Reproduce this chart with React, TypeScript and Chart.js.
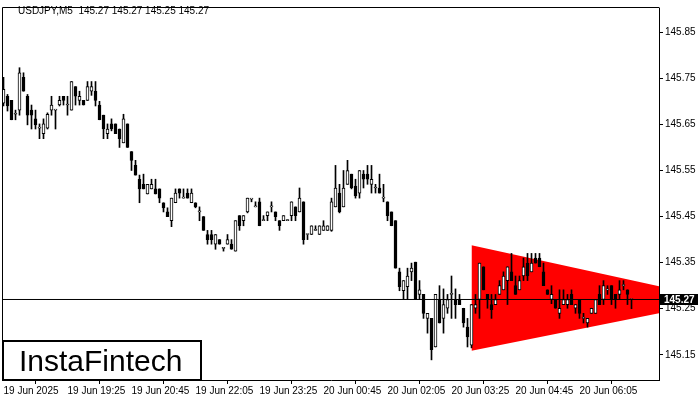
import React, { useEffect, useRef } from "react";
import { Chart, registerables } from "chart.js";
Chart.register(...registerables);

// ---- Data (M5 bars, index 0 = 19 Jun 18:05) ----
const openP = [
  145.696, 145.711, 145.702, 145.672, 145.681, 145.752, 145.711, 145.681, 145.662, 145.642,
  145.630, 145.642, 145.681, 145.681, 145.692, 145.711, 145.692, 145.681, 145.732, 145.702,
  145.702, 145.702, 145.722, 145.722, 145.692, 145.670, 145.630, 145.651, 145.651, 145.640,
  145.610, 145.651, 145.591, 145.561, 145.531, 145.520, 145.499, 145.510, 145.510, 145.510,
  145.480, 145.460, 145.441, 145.480, 145.510, 145.490, 145.501, 145.480, 145.480, 145.460,
  145.450, 145.411, 145.411, 145.390, 145.400, 145.381, 145.390, 145.390, 145.375, 145.452,
  145.441, 145.460, 145.488, 145.471, 145.482, 145.441, 145.452, 145.471, 145.460, 145.441,
  145.441, 145.441, 145.452, 145.471, 145.460, 145.482, 145.411, 145.411, 145.420, 145.411,
  145.420, 145.420, 145.420, 145.471, 145.501, 145.471, 145.520, 145.542, 145.516, 145.501,
  145.542, 145.542, 145.520, 145.512, 145.512, 145.490, 145.482, 145.460, 145.441, 145.330,
  145.289, 145.298, 145.330, 145.351, 145.281, 145.281, 145.229, 145.229, 145.167, 145.270,
  145.229, 145.251, 145.281, 145.270, 145.270, 145.251, 145.210, 145.171, 145.251, 145.270,
  145.341, 145.281, 145.259, 145.259, 145.281, 145.291, 145.311, 145.330, 145.300, 145.291,
  145.321, 145.349, 145.330, 145.360, 145.360, 145.330, 145.291, 145.270, 145.270, 145.240,
  145.259, 145.259, 145.281, 145.251, 145.270, 145.229, 145.219, 145.240, 145.240, 145.281,
  145.270, 145.291, 145.300, 145.281, 145.281, 145.300, 145.291, 145.270,
];
const highP = [
  145.752, 145.715, 145.702, 145.681, 145.773, 145.762, 145.715, 145.692, 145.681, 145.651,
  145.662, 145.675, 145.711, 145.681, 145.711, 145.711, 145.711, 145.743, 145.732, 145.722,
  145.702, 145.743, 145.743, 145.743, 145.700, 145.670, 145.651, 145.662, 145.651, 145.640,
  145.672, 145.651, 145.591, 145.572, 145.540, 145.542, 145.520, 145.531, 145.531, 145.510,
  145.480, 145.469, 145.490, 145.510, 145.510, 145.510, 145.510, 145.510, 145.480, 145.471,
  145.450, 145.420, 145.420, 145.411, 145.400, 145.381, 145.411, 145.400, 145.441, 145.452,
  145.452, 145.490, 145.488, 145.482, 145.490, 145.452, 145.460, 145.482, 145.460, 145.441,
  145.452, 145.441, 145.482, 145.471, 145.512, 145.482, 145.411, 145.430, 145.430, 145.430,
  145.441, 145.430, 145.490, 145.561, 145.520, 145.550, 145.572, 145.542, 145.531, 145.550,
  145.550, 145.561, 145.561, 145.520, 145.542, 145.520, 145.482, 145.460, 145.441, 145.338,
  145.311, 145.338, 145.349, 145.351, 145.311, 145.281, 145.240, 145.229, 145.281, 145.300,
  145.293, 145.281, 145.321, 145.293, 145.281, 145.251, 145.229, 145.259, 145.281, 145.349,
  145.341, 145.281, 145.281, 145.281, 145.311, 145.330, 145.341, 145.370, 145.321, 145.321,
  145.360, 145.370, 145.370, 145.370, 145.370, 145.349, 145.291, 145.300, 145.270, 145.291,
  145.291, 145.281, 145.291, 145.259, 145.270, 145.240, 145.229, 145.251, 145.270, 145.300,
  145.311, 145.300, 145.300, 145.281, 145.311, 145.311, 145.291, 145.270,
];
const lowP = [
  145.690, 145.679, 145.660, 145.660, 145.670, 145.722, 145.649, 145.640, 145.640, 145.619,
  145.619, 145.640, 145.670, 145.640, 145.690, 145.692, 145.670, 145.681, 145.692, 145.692,
  145.692, 145.702, 145.713, 145.690, 145.660, 145.619, 145.619, 145.636, 145.630, 145.600,
  145.610, 145.600, 145.550, 145.540, 145.480, 145.510, 145.499, 145.510, 145.499, 145.480,
  145.460, 145.450, 145.428, 145.480, 145.490, 145.490, 145.490, 145.480, 145.469, 145.441,
  145.420, 145.390, 145.390, 145.379, 145.390, 145.375, 145.390, 145.379, 145.375, 145.420,
  145.430, 145.458, 145.482, 145.471, 145.430, 145.441, 145.441, 145.460, 145.441, 145.420,
  145.441, 145.441, 145.441, 145.441, 145.460, 145.390, 145.400, 145.411, 145.420, 145.411,
  145.420, 145.420, 145.418, 145.471, 145.458, 145.471, 145.520, 145.510, 145.490, 145.490,
  145.512, 145.520, 145.501, 145.501, 145.501, 145.482, 145.441, 145.430, 145.338, 145.289,
  145.270, 145.270, 145.311, 145.270, 145.270, 145.229, 145.197, 145.139, 145.167, 145.219,
  145.197, 145.240, 145.229, 145.229, 145.259, 145.210, 145.167, 145.165, 145.240, 145.229,
  145.291, 145.251, 145.229, 145.259, 145.281, 145.291, 145.259, 145.311, 145.281, 145.291,
  145.311, 145.311, 145.330, 145.349, 145.341, 145.300, 145.281, 145.261, 145.251, 145.229,
  145.259, 145.251, 145.259, 145.240, 145.229, 145.219, 145.210, 145.240, 145.240, 145.259,
  145.259, 145.281, 145.259, 145.251, 145.270, 145.291, 145.259, 145.250,
];
const closeP = [
  145.726, 145.690, 145.660, 145.672, 145.762, 145.722, 145.670, 145.670, 145.649, 145.642,
  145.651, 145.672, 145.692, 145.681, 145.702, 145.702, 145.692, 145.743, 145.711, 145.711,
  145.692, 145.732, 145.732, 145.702, 145.660, 145.640, 145.640, 145.640, 145.630, 145.619,
  145.662, 145.600, 145.572, 145.540, 145.510, 145.510, 145.520, 145.520, 145.499, 145.490,
  145.469, 145.450, 145.490, 145.501, 145.501, 145.490, 145.490, 145.501, 145.471, 145.460,
  145.420, 145.400, 145.400, 145.411, 145.390, 145.381, 145.400, 145.379, 145.441, 145.430,
  145.452, 145.490, 145.488, 145.471, 145.430, 145.441, 145.460, 145.471, 145.450, 145.430,
  145.452, 145.441, 145.482, 145.452, 145.490, 145.400, 145.411, 145.430, 145.420, 145.430,
  145.430, 145.430, 145.482, 145.512, 145.460, 145.512, 145.550, 145.512, 145.495, 145.550,
  145.531, 145.531, 145.531, 145.512, 145.501, 145.490, 145.452, 145.430, 145.338, 145.298,
  145.311, 145.321, 145.338, 145.270, 145.291, 145.240, 145.240, 145.161, 145.281, 145.219,
  145.259, 145.270, 145.281, 145.259, 145.259, 145.219, 145.189, 145.259, 145.259, 145.349,
  145.291, 145.270, 145.248, 145.270, 145.300, 145.321, 145.341, 145.311, 145.281, 145.311,
  145.341, 145.321, 145.349, 145.349, 145.341, 145.300, 145.281, 145.281, 145.251, 145.251,
  145.270, 145.270, 145.259, 145.259, 145.240, 145.229, 145.229, 145.251, 145.270, 145.259,
  145.300, 145.291, 145.270, 145.270, 145.291, 145.300, 145.281, 145.270,
];

const timeLabels = [
  "19 Jun 2025", "19 Jun 19:25", "19 Jun 20:45", "19 Jun 22:05", "19 Jun 23:25",
  "20 Jun 00:45", "20 Jun 02:05", "20 Jun 03:25", "20 Jun 04:45", "20 Jun 06:05",
];
const timeLabelBars = [0, 16, 32, 48, 64, 80, 96, 112, 128, 144];
const priceTicks = [145.15, 145.25, 145.35, 145.45, 145.55, 145.65, 145.75, 145.85];

const symbolName = "USDJPY,M5";
const lastQuote = [145.27, 145.27, 145.25, 145.27];
const bidPrice = 145.27;

// symmetrical triangle pattern (bar index, price)
const triangleBars = [117, 180];
const triangleTop = [145.388, 145.268];
const triangleBottom = [145.159, 145.268];

const FONT = "'Liberation Sans', Arial, sans-serif";

const overlayPlugin = {
  id: "overlay",
  afterDraw(chart: any) {
    const { ctx, chartArea: a, scales } = chart;
    ctx.save();
    // frame left/top
    ctx.strokeStyle = "#000";
    ctx.lineWidth = 1;
    ctx.beginPath();
    ctx.moveTo(a.left - 0.5, a.bottom + 0.5);
    ctx.lineTo(a.left - 0.5, a.top - 0.5);
    ctx.lineTo(a.right + 0.5, a.top - 0.5);
    ctx.stroke();

    // header
    ctx.fillStyle = "#000";
    ctx.font = `10px ${FONT}`;
    ctx.textBaseline = "middle";
    ctx.textAlign = "left";
    ctx.fillText(`${symbolName}  ${lastQuote.map((v) => v.toFixed(2)).join(" ")}`, 18, 11);

    // bid price label
    const py = scales.y.getPixelForValue(bidPrice);
    ctx.fillStyle = "#000";
    ctx.fillRect(a.right + 1, Math.floor(py) - 5, 38, 11);
    ctx.fillStyle = "#fff";
    ctx.font = `bold 10px ${FONT}`;
    ctx.fillText(bidPrice.toFixed(2), a.right + 5, py + 0.5);

    // logo
    ctx.fillStyle = "#fff";
    ctx.fillRect(3, 341, 198, 39);
    ctx.lineWidth = 2;
    ctx.strokeStyle = "#000";
    ctx.strokeRect(3, 341, 198, 39);
    ctx.fillStyle = "#000";
    ctx.font = `30px ${FONT}`;
    ctx.textBaseline = "alphabetic";
    ctx.fillText("InstaFintech", 19, 371);
    ctx.restore();
  },
};

export default function App() {
  const ref = useRef<HTMLCanvasElement>(null);
  useEffect(() => {
    document.body.style.margin = "0";
    if (!ref.current) return;
    const idx = openP.map((_, i) => i);
    const bodies = idx.map((i) => ({ x: i, y: [openP[i], closeP[i]] }));
    const wicks = idx.map((i) => ({ x: i, y: [lowP[i], highP[i]] }));
    const bodyFill = idx.map((i) => (closeP[i] >= openP[i] ? "#ffffff" : "#000000"));

    const chart = new Chart(ref.current, {
      type: "bar",
      data: {
        datasets: [
          {
            type: "line",
            data: [
              { x: -2, y: bidPrice },
              { x: 170, y: bidPrice },
            ],
            borderColor: "#000",
            borderWidth: 1,
            pointRadius: 0,
            order: 0,
          } as any,
          {
            type: "bar",
            data: bodies,
            backgroundColor: bodyFill,
            borderColor: "#000",
            borderWidth: 1,
            borderSkipped: false,
            barThickness: 3,
            minBarLength: 1,
            grouped: false,
            order: 1,
          } as any,
          {
            type: "bar",
            data: wicks,
            backgroundColor: "#000",
            borderWidth: 0,
            barThickness: 1,
            minBarLength: 1,
            grouped: false,
            order: 2,
          } as any,
          {
            type: "line",
            data: triangleBars.map((x, k) => ({ x, y: triangleTop[k] })),
            borderWidth: 0,
            borderColor: "#ff0000",
            pointRadius: 0,
            fill: "+1",
            backgroundColor: "#ff0000",
            order: 3,
          } as any,
          {
            type: "line",
            data: triangleBars.map((x, k) => ({ x, y: triangleBottom[k] })),
            borderWidth: 0,
            borderColor: "#ff0000",
            pointRadius: 0,
            fill: false,
            order: 4,
          } as any,
        ],
      },
      options: {
        responsive: false,
        animation: false,
        events: [],
        layout: { padding: { left: 3, top: 3, right: 0, bottom: 0 } },
        plugins: {
          legend: { display: false },
          tooltip: { enabled: false },
          title: { display: false },
        },
        scales: {
          x: {
            type: "linear",
            min: -0.125,
            max: 163.875,
            offset: false,
            afterBuildTicks: (s: any) => {
              s.ticks = timeLabelBars.map((v) => ({ value: v }));
            },
            afterFit: (s: any) => {
              s.height = 20;
            },
            ticks: {
              autoSkip: false,
              maxRotation: 0,
              minRotation: 0,
              align: "start",
              padding: 1,
              color: "#000",
              font: { family: FONT, size: 10 },
              callback: (_v: any, i: number) => timeLabels[i] ?? "",
            },
            grid: { drawOnChartArea: false, drawTicks: true, tickLength: 4, color: "#000" },
            border: { display: true, color: "#000", width: 1 },
          },
          y: {
            type: "linear",
            position: "right",
            min: 145.0953,
            max: 145.9026,
            afterBuildTicks: (s: any) => {
              s.ticks = priceTicks.map((v) => ({ value: v }));
            },
            afterFit: (s: any) => {
              s.width = 41;
            },
            ticks: {
              padding: 2,
              color: "#000",
              font: { family: FONT, size: 10 },
              callback: (v: any) => Number(v).toFixed(2),
            },
            grid: { drawOnChartArea: false, drawTicks: true, tickLength: 4, color: "#000" },
            border: { display: true, color: "#000", width: 1 },
          },
        },
      } as any,
      plugins: [overlayPlugin],
    });
    return () => chart.destroy();
  }, []);

  return (
    <div style={{ position: "absolute", left: 0, top: 0, width: 700, height: 400, background: "#fff" }}>
      <canvas ref={ref} width={700} height={400} />
    </div>
  );
}
